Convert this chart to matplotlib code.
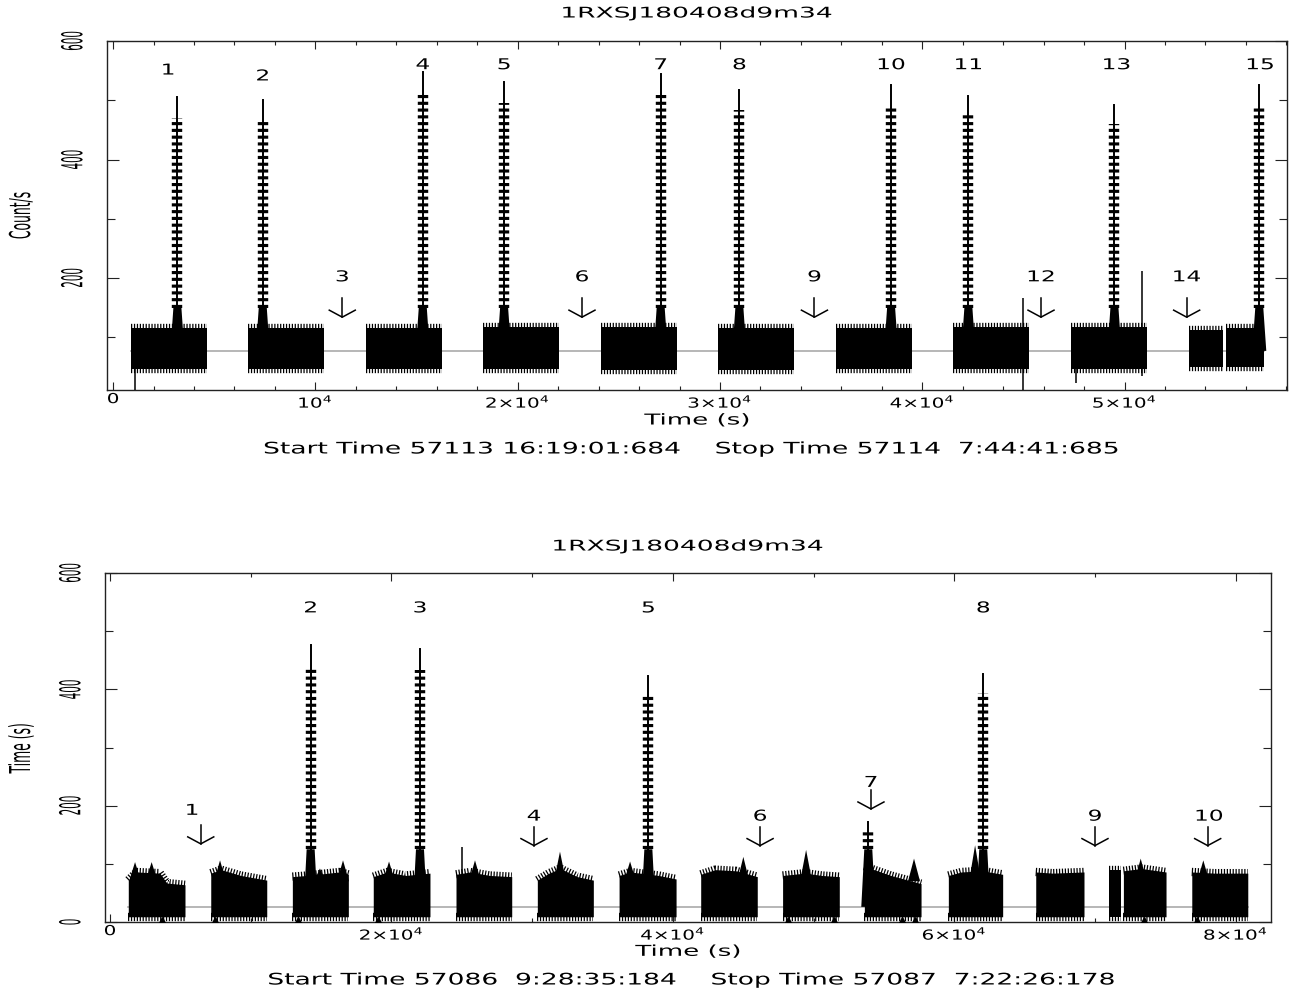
import numpy as np
import matplotlib
matplotlib.use("Agg")
import matplotlib.pyplot as plt
import matplotlib.patheffects as pe
from matplotlib.transforms import Affine2D

plt.rcParams["font.family"] = ["DejaVu Sans"]
plt.rcParams["mathtext.fontset"] = "dejavusans"
plt.rcParams["mathtext.default"] = "regular"

source = "1RXSJ180408d9m34"

# upper light curve (obs starting MJD 57113)
top_seg_start = [870, 6690, 12490, 18300, 24110, 29920, 35740, 41540, 47360, 53190, 55000]
top_seg_end = [4660, 10450, 16280, 22060, 27860, 33680, 39510, 45300, 51100, 54890, 56900]
top_seg_lo = [47, 47, 46, 46, 45, 45, 46, 47, 46, 49, 49]
top_seg_hi = [116, 116, 116, 117, 117, 116, 116, 117, 118, 112, 116]
top_flare_t = [3180, 7400, 15310, 19330, 27070, 30960, 38460, 42280, 49500, 56660]
top_flare_mark = [470, 467, 510, 495, 509, 484, 492, 475, 460, 489]
top_flare_peak = [506, 500, 548, 531, 545, 517, 526, 507, 492, 526]
top_flare_name = ["1", "2", "4", "5", "7", "8", "10", "11", "13", "15"]
top_name_t = [2720, 7400, 15310, 19330, 27070, 30960, 38460, 42280, 49600, 56700]
top_name_y = [551, 541, 560, 560, 560, 560, 560, 560, 560, 560]
top_arrow_t = [11330, 23180, 34670, 45870, 53070]
top_arrow_top = [166, 166, 166, 166, 166]
top_arrow_name = ["3", "6", "9", "12", "14"]
top_arrow_name_t = [11330, 23180, 34670, 45870, 53070]
top_arrow_name_y = [202, 202, 202, 202, 202]
top_spike_t = [1090, 45000, 47600, 50850]
top_spike_lo = [11, 11, 23, 35]
top_spike_hi = [100, 166, 110, 212]
top_mean = 77
top_times = "Start Time 57113 16:19:01:684    Stop Time 57114  7:44:41:685"

# lower light curve (obs starting MJD 57086)
bot_seg_t = [
    [1300, 1900, 3550, 4030, 5330],
    [7160, 7900, 9300, 11140],
    [12960, 14000, 16300, 16940],
    [18710, 19700, 21000, 22740],
    [24590, 25600, 27000, 28550],
    [30370, 31200, 32000, 33200, 34350],
    [36180, 37000, 39000, 40230],
    [41980, 43000, 44500, 46000],
    [47800, 49400, 50600, 51830],
    [53610, 54300, 55500, 57640],
    [59580, 60500, 62000, 63440],
    [65790, 67000, 69220],
    [71020, 71850],
    [72020, 73300, 75050],
    [76880, 78500, 80860],
]
bot_seg_hi = [
    [72, 86, 84, 67, 64],
    [84, 90, 80, 72],
    [78, 80, 86, 82],
    [78, 86, 80, 84],
    [82, 86, 80, 78],
    [72, 84, 92, 78, 72],
    [80, 86, 80, 74],
    [82, 90, 88, 78],
    [80, 84, 80, 78],
    [96, 90, 80, 66],
    [80, 86, 88, 82],
    [86, 84, 86],
    [90, 90],
    [88, 92, 86],
    [86, 84, 84],
]
bot_seg_lo = 9
bot_flare_t = [14260, 22030, 38260, 53890, 62060]
bot_flare_mark = [438, 433, 390, 160, 393]
bot_flare_peak = [476, 470, 423, 172, 427]
bot_flare_name = ["2", "3", "5", "8"]
bot_name_t = [14260, 22030, 38260, 62060]
bot_name_y = [540, 540, 540, 540]
bot_arrow_t = [6450, 30130, 46200, 54080, 70000, 78010]
bot_arrow_top = [167, 164, 164, 227, 164, 164]
bot_arrow_name = ["1", "4", "6", "7", "9", "10"]
bot_arrow_name_t = [5830, 30130, 46200, 54080, 70000, 78100]
bot_arrow_name_y = [192, 182, 182, 240, 182, 182]
bot_tip_t = [1780, 2960, 7820, 14920, 16560, 19830, 25940, 31980, 36960, 45010, 49470,
             57140, 61480, 73250, 77700]
bot_tip_v = [103, 103, 106, 92, 106, 104, 106, 121, 104, 112, 124, 109, 132, 109, 106]
bot_spike_t = [25000]
bot_spike_hi = [129]
bot_low_t = [3670, 7460, 13340, 19030, 48200, 51450, 56260, 57210, 73510, 77230]
bot_low_v = [1, 1, 1, 1, 1, 1, 1, 1, 1, 1]
bot_mean = 26
bot_times = "Start Time 57086  9:28:35:184    Stop Time 57087  7:22:26:178"


class Stretch(pe.AbstractPathEffect):
    # widen / squeeze a text path along its baseline (PGPLOT-like lettering)
    def __init__(self, sx):
        super().__init__()
        self.sx = sx

    def draw_path(self, renderer, gc, tpath, affine, rgbFace=None):
        ext = tpath.get_extents()
        cx = 0.5 * (ext.x0 + ext.x1)
        squash = Affine2D().translate(-cx, 0).scale(self.sx, 1).translate(cx, 0)
        renderer.draw_path(gc, tpath, squash + affine, rgbFace)


fig = plt.figure(figsize=(12.93, 9.9), dpi=100)
ax_top = fig.add_axes([107 / 1293, 1 - 390 / 990, 1180 / 1293, 349 / 990])
ax_bot = fig.add_axes([105 / 1293, 1 - 922 / 990, 1166 / 1293, 349 / 990])
ax_top.set_xlim(-300, 58030)
ax_top.set_ylim(11, 600)
ax_bot.set_xlim(-355, 82510)
ax_bot.set_ylim(0, 600)


def px(ax):
    # data units per output pixel
    bb = ax.get_position()
    x0, x1 = ax.get_xlim()
    y0, y1 = ax.get_ylim()
    return (x1 - x0) / (bb.width * 1293), (y1 - y0) / (bb.height * 990)


def draw_segment(ax, t, lo, hi):
    lo = np.broadcast_to(lo, np.shape(t))
    hi = np.broadcast_to(hi, np.shape(t))
    ax.fill_between(t, lo, hi, color="black", lw=0, zorder=3)
    for edge in (lo, hi):
        ax.plot(t, edge, color="black", lw=6, dashes=(0.15, 0.2),
                dash_capstyle="butt", zorder=3)


def draw_flare(ax, t, base, dense, mark, peak):
    dx, dy = px(ax)
    ax.fill([t - 7 * dx, t - 4 * dx, t + 4 * dx, t + 7 * dx], [base, dense, dense, base],
            color="black", lw=0, zorder=4)
    ax.plot([t, t], [dense, mark], color="black", lw=7.5, dashes=(0.3, 0.35),
            dash_capstyle="butt", zorder=4)
    ax.plot([t, t], [base, peak], color="black", lw=1.4, zorder=4)


def draw_arrow(ax, t, top):
    dx, dy = px(ax)
    tip = top - 19 * dy
    ax.plot([t, t], [top, tip], color="black", lw=1.1)
    ax.plot([t - 13 * dx, t, t + 13 * dx], [tip + 7 * dy, tip, tip + 7 * dy],
            color="black", lw=1.1)


def label(ax, x, y, s):
    ax.text(x, y, s, fontsize=10.8, ha="center", va="center",
            path_effects=[Stretch(1.55)])


# upper panel
ax = ax_top
ax.plot([top_seg_start[0], top_seg_end[-1]], [top_mean, top_mean], color="#aaaaaa", lw=1.2, zorder=2)
for s, e, lo, hi in zip(top_seg_start, top_seg_end, top_seg_lo, top_seg_hi):
    draw_segment(ax, [s, e], lo, hi)
for t, m, p in zip(top_flare_t, top_flare_mark, top_flare_peak):
    draw_flare(ax, t, top_mean, 150, m, p)
ax.vlines(top_spike_t, top_spike_lo, top_spike_hi, color="black", lw=1.1, zorder=4)
for t, top in zip(top_arrow_t, top_arrow_top):
    draw_arrow(ax, t, top)
for t, y, s in zip(top_name_t, top_name_y, top_flare_name):
    label(ax, t, y, s)
for t, y, s in zip(top_arrow_name_t, top_arrow_name_y, top_arrow_name):
    label(ax, t, y, s)

ax.set_xticks([0, 10000, 20000, 30000, 40000, 50000],
              ["0", "10$^{4}$", "2×10$^{4}$", "3×10$^{4}$", "4×10$^{4}$", "5×10$^{4}$"])
ax.set_xticks(np.arange(0, 58001, 2000), minor=True)
ax.set_yticks([200, 400, 600])
ax.set_yticks([100, 300, 500], minor=True)
ax.set_ylabel("Count/s")

# lower panel
ax = ax_bot
ax.plot([bot_seg_t[0][0], bot_seg_t[-1][-1]], [bot_mean, bot_mean], color="#aaaaaa", lw=1.2, zorder=2)
for t, hi in zip(bot_seg_t, bot_seg_hi):
    draw_segment(ax, t, bot_seg_lo, hi)
dx, dy = px(ax)
for t, v in zip(bot_tip_t, bot_tip_v):
    ax.fill([t - 6 * dx, t, t + 6 * dx], [70, v, 70], color="black", lw=0, zorder=4)
ax.vlines(bot_spike_t, 60, bot_spike_hi, color="black", lw=1.1, zorder=4)
ax.plot(bot_low_t, bot_low_v, "^", color="black", ms=6, zorder=4)
for t, m, p in zip(bot_flare_t, bot_flare_mark, bot_flare_peak):
    draw_flare(ax, t, bot_mean, 125, m, p)
for t, top in zip(bot_arrow_t, bot_arrow_top):
    draw_arrow(ax, t, top)
for t, y, s in zip(bot_name_t, bot_name_y, bot_flare_name):
    label(ax, t, y, s)
for t, y, s in zip(bot_arrow_name_t, bot_arrow_name_y, bot_arrow_name):
    label(ax, t, y, s)

ax.set_xticks([0, 20000, 40000, 60000, 80000],
              ["0", "2×10$^{4}$", "4×10$^{4}$", "6×10$^{4}$", "8×10$^{4}$"])
ax.set_xticks([10000, 30000, 50000, 70000], minor=True)
ax.set_yticks([0, 200, 400, 600])
ax.set_yticks([100, 300, 500], minor=True)
ax.set_ylabel("Time (s)")

# frame, ticks and lettering shared by both panels
for ax, ylab_x, xlab_y in ((ax_top, -0.072, -0.086), (ax_bot, -0.0712, -0.084)):
    for sp in ax.spines.values():
        sp.set_linewidth(1.0)
        sp.set_color("#222222")
    ax.tick_params(which="both", direction="in", top=True, right=True, color="#222222")
    ax.tick_params(axis="x", which="major", length=6, width=0.8, pad=1.5, labelsize=9.9)
    ax.tick_params(axis="x", which="minor", length=3, width=0.8)
    ax.tick_params(axis="y", which="major", length=8.5, width=0.8, pad=13.5,
                   labelsize=20.7, labelrotation=90)
    ax.tick_params(axis="y", which="minor", length=5.5, width=0.8)
    for lab in ax.get_xticklabels():
        lab.set_path_effects([Stretch(1.45)])
    for lab in ax.get_yticklabels():
        lab.set_va("center")
        lab.set_path_effects([Stretch(0.36)])
    yl = ax.yaxis.label
    yl.set_fontsize(20.7)
    yl.set_va("center")
    yl.set_path_effects([Stretch(0.43)])
    ax.yaxis.set_label_coords(ylab_x, 0.5)
    ax.set_xlabel("Time (s)", fontsize=10.8)
    ax.xaxis.label.set_va("center")
    ax.xaxis.label.set_path_effects([Stretch(1.74)])
    ax.xaxis.set_label_coords(0.5, xlab_y)

fig.text(697 / 1293, 1 - 13 / 990, source, fontsize=10.6, ha="center", va="center",
         path_effects=[Stretch(1.8)])
fig.text(688 / 1293, 1 - 546 / 990, source, fontsize=10.6, ha="center", va="center",
         path_effects=[Stretch(1.8)])
fig.text(692 / 1293, 1 - 449 / 990, top_times, fontsize=11.5, ha="center", va="center",
         path_effects=[Stretch(1.66)])
fig.text(692 / 1293, 1 - 980 / 990, bot_times, fontsize=11.5, ha="center", va="center",
         path_effects=[Stretch(1.66)])

fig.savefig("out.png", dpi=100)
plt.close(fig)
